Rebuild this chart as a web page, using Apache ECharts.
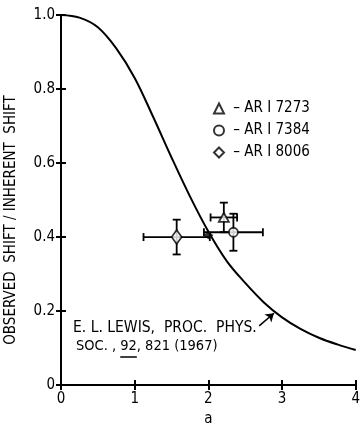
<!DOCTYPE html>
<html>
<head>
<meta charset="utf-8">
<script src="https://cdn.jsdelivr.net/npm/echarts@6/dist/echarts.min.js"></script>
<style>
  html, body { margin: 0; padding: 0; background: #fff; }
  #main { width: 363px; height: 432px; }
</style>
</head>
<body>
<div id="main"></div>
<script>
// theory curve (E. L. Lewis)
var curveA     = [0, 0.25, 0.5, 0.75, 1.0, 1.25, 1.5, 1.75, 2.0, 2.25, 2.5, 2.75, 3.0, 3.25, 3.5, 3.75, 4.0];
var curveRatio = [1.0, 0.993, 0.967, 0.91, 0.83, 0.725, 0.615, 0.51, 0.415, 0.335, 0.276, 0.224, 0.183, 0.152, 0.128, 0.11, 0.095];

// measured lines
var lineNames  = ['AR I 7273', 'AR I 7384', 'AR I 8006'];
var lineSymbol = ['triangle', 'circle', 'diamond'];
var pointA     = [2.21, 2.34, 1.57];
var pointRatio = [0.453, 0.413, 0.40];
var errA       = [0.18, 0.40, 0.45];
var errRatio   = [0.04, 0.05, 0.047];

// filled point on the curve
var markA = [2.0];
var markRatio = [0.405];

var xTicks = [0, 1, 2, 3, 4];
var yTicks = [0, 0.2, 0.4, 0.6, 0.8, 1.0];

var font = "'DejaVu Sans Condensed', 'DejaVu Sans', sans-serif";
var noteFont = '15.5px ' + font;
var noteFont2 = '14.5px ' + font;

var dom = document.getElementById('main');
var myChart = echarts.init(dom, null, { renderer: 'canvas' });

var curveData = curveA.map(function (a, i) { return [a, curveRatio[i]]; });
var errData = pointA.map(function (a, i) { return [a, pointRatio[i], errA[i], errRatio[i]]; });

// where to put the underline under "92"
var ctx = document.createElement('canvas').getContext('2d');
ctx.font = noteFont2;
var ulStart = 76 + ctx.measureText('SOC. , ').width;
var ulEnd = ulStart + ctx.measureText('92').width;

function renderErr(params, api) {
    var x = api.value(0), y = api.value(1), ex = api.value(2), ey = api.value(3);
    var l = api.coord([x - ex, y]), r = api.coord([x + ex, y]);
    var t = api.coord([x, y + ey]), b = api.coord([x, y - ey]);
    var c = 4;
    var st = { stroke: '#000', lineWidth: 1.8 };
    function seg(x1, y1, x2, y2) {
        return { type: 'line', shape: { x1: x1, y1: y1, x2: x2, y2: y2 }, style: st };
    }
    return {
        type: 'group',
        children: [
            seg(l[0], l[1], r[0], r[1]),
            seg(l[0], l[1] - c, l[0], l[1] + c),
            seg(r[0], r[1] - c, r[0], r[1] + c),
            seg(t[0], t[1], b[0], b[1]),
            seg(t[0] - c, t[1], t[0] + c, t[1]),
            seg(b[0] - c, b[1], b[0] + c, b[1])
        ]
    };
}

var axisCommon = {
    axisLine: { show: true, lineStyle: { color: '#000', width: 2 } },
    axisTick: { show: true, inside: true, length: 5, lineStyle: { color: '#000', width: 2 } },
    splitLine: { show: false }
};

var series = [
    {
        type: 'line',
        data: curveData,
        smooth: 0.35,
        showSymbol: false,
        lineStyle: { color: '#000', width: 2 },
        silent: true,
        z: 2,
        markLine: {
            silent: true,
            symbol: ['none', 'arrow'],
            symbolSize: 8,
            lineStyle: { color: '#000', width: 1.5, type: 'solid' },
            label: { show: false },
            data: [[{ coord: [2.69, 0.16] }, { coord: [2.89, 0.194] }]]
        }
    },
    {
        type: 'custom',
        renderItem: renderErr,
        data: errData,
        z: 3,
        silent: true
    },
    {
        type: 'scatter',
        data: markA.map(function (a, i) { return [a, markRatio[i]]; }),
        symbol: 'diamond',
        symbolSize: [10, 8],
        itemStyle: { color: '#000' },
        z: 4
    }
];
lineNames.forEach(function (name, i) {
    series.push({
        name: name,
        type: 'scatter',
        data: [[pointA[i], pointRatio[i]]],
        symbol: lineSymbol[i],
        symbolSize: lineSymbol[i] === 'diamond' ? [10, 14] : (lineSymbol[i] === 'triangle' ? [10, 9] : 9),
        itemStyle: { color: '#fff', borderColor: '#000', borderWidth: 1.8 },
        z: 5
    });
});

option = {
    backgroundColor: '#fff',
    animation: false,
    textStyle: { fontFamily: font },
    grid: { left: 61, right: 4, top: 15, bottom: 44 },
    legend: {
        orient: 'vertical',
        left: 213,
        top: 101,
        padding: 0,
        itemWidth: 10,
        itemHeight: 10,
        itemGap: 7,
        data: lineNames,
        formatter: function (n) { return ' \u2013 ' + n; },
        textStyle: { fontFamily: font, fontSize: 15, color: '#000' },
        selectedMode: false
    },
    xAxis: [
        Object.assign({
            type: 'value', min: 0, max: 4, interval: 1,
            name: 'a', nameLocation: 'middle', nameGap: 24,
            nameTextStyle: { fontFamily: font, fontSize: 15, color: '#000' },
            axisLabel: { color: '#000', fontSize: 15, fontFamily: font, margin: 7,
                formatter: function (v) { return xTicks.indexOf(v) >= 0 ? String(v) : ''; } }
        }, axisCommon),
        Object.assign({
            type: 'value', min: 0, max: 4, interval: 1, position: 'top',
            axisLabel: { show: false }
        }, axisCommon)
    ],
    yAxis: [
        Object.assign({
            type: 'value', min: 0, max: 1, interval: 0.2,
            axisLabel: { color: '#000', fontSize: 15, fontFamily: font, margin: 6,
                formatter: function (v) {
                    var k = yTicks.indexOf(Math.round(v * 10) / 10);
                    if (k < 0) return '';
                    return v === 0 ? '0' : yTicks[k].toFixed(1);
                } }
        }, axisCommon),
        Object.assign({
            type: 'value', min: 0, max: 1, interval: 0.2, position: 'right',
            axisLabel: { show: false }
        }, axisCommon)
    ],
    graphic: [
        { type: 'text', x: 11, y: 220, rotation: Math.PI / 2,
          style: { text: 'OBSERVED  SHIFT / INHERENT  SHIFT', font: '15px ' + font, fill: '#000', align: 'center', verticalAlign: 'middle' } },
        { type: 'text', left: 73, top: 320, style: { text: 'E. L. LEWIS,  PROC.  PHYS.', font: noteFont, fill: '#000' } },
        { type: 'text', left: 76, top: 339, style: { text: 'SOC. , 92, 821 (1967)', font: noteFont2, fill: '#000' } },
        { type: 'line', shape: { x1: ulStart, y1: 357, x2: ulEnd, y2: 357 }, style: { stroke: '#000', lineWidth: 1.5 } }
    ],
    series: series
};

if (option && typeof option === "object") {
    myChart.setOption(option, true);
}
</script>
</body>
</html>
